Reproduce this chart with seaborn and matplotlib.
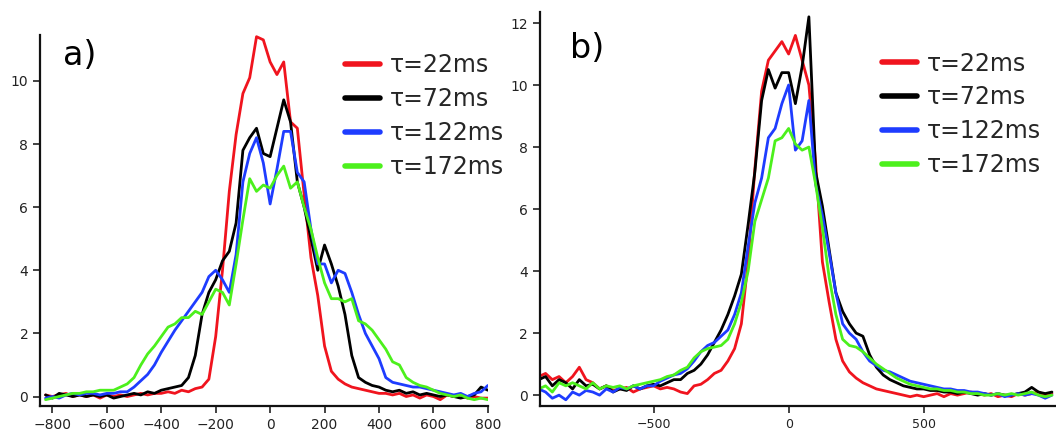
import numpy as np
import pandas as pd
import matplotlib
matplotlib.use("Agg")
import matplotlib.pyplot as plt
import seaborn as sns

# labels and colours of the four delays
taus = ["τ=22ms", "τ=72ms", "τ=122ms", "τ=172ms"]
colors = ["#f0141e", "#000000", "#1e3cff", "#4cf01c"]

# panel a) x grid, -825 .. 800 in steps of 25
xa = np.arange(-825, 801, 25)
a_22 = [0.05, 0.0, 0.05, 0.1, 0.0, 0.05, 0.0, 0.05, -0.05, 0.05, 0.0, 0.05, 0.0, 0.05, 0.1, 0.05,
        0.1, 0.1, 0.15, 0.1, 0.2, 0.15, 0.25, 0.3, 0.55, 1.9, 4.0, 6.5, 8.3, 9.6, 10.1, 11.4,
        11.3, 10.6, 10.2, 10.6, 8.7, 8.5, 6.4, 4.4, 3.2, 1.6, 0.8, 0.55, 0.4, 0.3, 0.25, 0.2,
        0.15, 0.1, 0.1, 0.05, 0.1, 0.0, 0.05, -0.05, 0.05, 0.0, -0.1, 0.05, 0.0, 0.05, -0.05, 0.0,
        -0.05, -0.05]
a_72 = [0.05, -0.05, 0.1, 0.05, 0.0, 0.05, 0.0, 0.05, 0.0, 0.05, -0.05, 0.0, 0.05, 0.1, 0.05, 0.15,
        0.1, 0.2, 0.25, 0.3, 0.35, 0.6, 1.3, 2.6, 3.3, 3.7, 4.3, 4.6, 5.5, 7.8, 8.2, 8.5,
        7.7, 7.6, 8.5, 9.4, 8.7, 6.8, 6.0, 5.0, 4.0, 4.8, 4.2, 3.5, 2.6, 1.3, 0.6, 0.45,
        0.35, 0.3, 0.2, 0.15, 0.2, 0.1, 0.15, 0.05, 0.1, 0.05, 0.0, 0.05, 0.0, -0.05, 0.0, 0.05,
        0.3, 0.2]
a_122 = [-0.05, 0.0, -0.05, 0.05, 0.1, 0.05, 0.1, 0.1, 0.05, 0.1, 0.1, 0.15, 0.15, 0.3, 0.5, 0.7,
         1.0, 1.4, 1.75, 2.1, 2.4, 2.7, 3.0, 3.3, 3.8, 4.0, 3.7, 3.3, 4.5, 6.8, 7.7, 8.2,
         7.4, 6.1, 7.2, 8.4, 8.4, 7.1, 6.8, 5.3, 4.2, 4.2, 3.6, 4.0, 3.9, 3.3, 2.6, 2.0,
         1.6, 1.2, 0.6, 0.45, 0.4, 0.35, 0.3, 0.3, 0.25, 0.2, 0.15, 0.1, 0.05, 0.1, 0.0, 0.1,
         0.15, 0.35]
a_172 = [-0.1, -0.05, 0.0, 0.05, 0.1, 0.1, 0.15, 0.15, 0.2, 0.2, 0.2, 0.3, 0.4, 0.6, 1.0, 1.35,
         1.6, 1.9, 2.2, 2.3, 2.5, 2.5, 2.7, 2.6, 3.0, 3.4, 3.3, 2.9, 4.2, 5.6, 6.9, 6.5,
         6.7, 6.6, 7.0, 7.3, 6.6, 6.8, 6.0, 5.3, 4.4, 3.6, 3.1, 3.1, 3.0, 3.1, 2.4, 2.3,
         2.1, 1.8, 1.5, 1.1, 1.0, 0.6, 0.45, 0.35, 0.3, 0.2, 0.1, 0.05, 0.0, 0.05, -0.05, -0.1,
         -0.05, -0.1]

# panel b) x grid, -925 .. 975 in steps of 25
xb = np.arange(-925, 976, 25)
b_22 = [0.6, 0.7, 0.5, 0.6, 0.4, 0.6, 0.9, 0.5, 0.4, 0.2, 0.3, 0.15, 0.2, 0.25, 0.1, 0.2,
        0.25, 0.3, 0.2, 0.25, 0.2, 0.1, 0.05, 0.3, 0.35, 0.5, 0.7, 0.8, 1.1, 1.5, 2.3, 4.3,
        7.3, 9.8, 10.8, 11.1, 11.4, 11.0, 11.6, 10.8, 10.0, 7.5, 4.3, 3.0, 1.8, 1.1, 0.75, 0.55,
        0.4, 0.3, 0.2, 0.15, 0.1, 0.05, 0.0, -0.05, 0.0, -0.05, 0.0, 0.05, -0.05, 0.05, 0.0, 0.05,
        0.1, 0.05, 0.0, 0.05, -0.05, 0.0, -0.05, 0.05, 0.0, 0.05, 0.1, 0.0, 0.05]
b_72 = [0.5, 0.6, 0.3, 0.5, 0.4, 0.2, 0.5, 0.3, 0.35, 0.2, 0.3, 0.1, 0.2, 0.15, 0.3, 0.2,
        0.3, 0.35, 0.3, 0.4, 0.5, 0.5, 0.7, 0.8, 1.0, 1.3, 1.7, 2.1, 2.6, 3.2, 3.9, 5.5,
        7.2, 9.5, 10.5, 9.9, 10.4, 10.4, 9.4, 10.6, 12.2, 7.2, 6.1, 4.7, 3.3, 2.7, 2.3, 2.0,
        1.9, 1.3, 0.9, 0.65, 0.5, 0.4, 0.3, 0.25, 0.2, 0.2, 0.15, 0.15, 0.1, 0.1, 0.05, 0.1,
        0.05, 0.0, 0.05, 0.0, 0.05, 0.0, 0.0, 0.05, 0.1, 0.25, 0.1, 0.05, 0.1]
b_122 = [0.2, 0.1, -0.1, 0.0, -0.15, 0.1, 0.0, 0.15, 0.1, 0.0, 0.2, 0.1, 0.25, 0.2, 0.3, 0.2,
         0.3, 0.3, 0.45, 0.55, 0.65, 0.7, 0.85, 1.1, 1.4, 1.6, 1.7, 1.9, 2.1, 2.6, 3.3, 4.8,
         6.2, 7.0, 8.3, 8.6, 9.4, 10.0, 7.9, 8.2, 9.5, 6.8, 5.8, 4.6, 3.3, 2.3, 2.0, 1.8,
         1.4, 1.1, 0.95, 0.8, 0.75, 0.65, 0.55, 0.45, 0.4, 0.35, 0.3, 0.25, 0.2, 0.2, 0.15, 0.15,
         0.1, 0.1, 0.05, 0.0, 0.05, -0.05, 0.0, 0.05, 0.0, 0.05, 0.0, -0.1, 0.0]
b_172 = [0.2, 0.3, 0.1, 0.4, 0.3, 0.4, 0.3, 0.2, 0.4, 0.2, 0.3, 0.25, 0.3, 0.2, 0.3, 0.35,
         0.4, 0.45, 0.5, 0.6, 0.65, 0.8, 0.9, 1.2, 1.4, 1.5, 1.55, 1.6, 1.8, 2.3, 3.0, 4.0,
         5.6, 6.3, 7.0, 8.2, 8.3, 8.6, 8.1, 7.9, 8.0, 6.8, 5.4, 3.8, 2.6, 1.8, 1.6, 1.55,
         1.4, 1.2, 1.0, 0.85, 0.7, 0.55, 0.45, 0.35, 0.3, 0.25, 0.2, 0.2, 0.15, 0.15, 0.1, 0.1,
         0.05, 0.05, 0.0, 0.0, 0.05, 0.0, 0.05, 0.0, 0.05, 0.1, 0.0, -0.05, 0.0]


def long_table(x, series):
    frames = []
    for tau, vals in zip(taus, series):
        assert len(vals) == len(x), (tau, len(vals), len(x))
        frames.append(pd.DataFrame({"x": x, "v": vals, "tau": tau}))
    return pd.concat(frames, ignore_index=True)


df_a = long_table(xa, [a_22, a_72, a_122, a_172])
df_b = long_table(xb, [b_22, b_72, b_122, b_172])

sns.set_style("ticks")
plt.rcParams["font.family"] = ["DejaVu Sans"]

fig = plt.figure(figsize=(10.56, 4.44), dpi=100)
ax_a = fig.add_axes([0.038, 0.0856, 0.424, 0.836])
ax_b = fig.add_axes([0.511, 0.0856, 0.489, 0.887])

pal = dict(zip(taus, colors))
for ax, df in [(ax_a, df_a), (ax_b, df_b)]:
    sns.lineplot(data=df, x="x", y="v", hue="tau", palette=pal, estimator=None,
                 linewidth=2.0, ax=ax)
    sns.despine(ax=ax)
    ax.set_xlabel("")
    ax.set_ylabel("")
    ax.tick_params(direction="out", length=5, width=1.2, colors="#222222", labelsize=10)
    for s in ["left", "bottom"]:
        ax.spines[s].set_linewidth(1.6)
        ax.spines[s].set_color("#111111")
    handles, labels = ax.get_legend_handles_labels()
    for h in handles:
        h.set_linewidth(4)
    ax.legend(handles, labels, frameon=False, fontsize=17, handlelength=1.5,
              handletextpad=0.4, labelspacing=0.42, borderpad=0, borderaxespad=0,
              loc="upper left")

ax_a.set_xlim(-845, 800)
ax_a.set_ylim(-0.3, 11.46)
ax_a.set_xticks(np.arange(-800, 801, 200))
ax_a.set_yticks(np.arange(0, 11, 2))
ax_a.legend_.set_bbox_to_anchor((0.681, 0.95))
ax_a.text(0.05, 0.99, "a)", transform=ax_a.transAxes, fontsize=24, va="top", color="black")

ax_b.set_xlim(-922, 990)
ax_b.set_ylim(-0.35, 12.35)
ax_b.set_xticks([-500, 0, 500])
ax_b.set_yticks(np.arange(0, 13, 2))
ax_b.tick_params(axis="x", labelsize=9)
ax_b.legend_.set_bbox_to_anchor((0.663, 0.9))
ax_b.text(0.058, 0.95, "b)", transform=ax_b.transAxes, fontsize=24, va="top", color="black")

fig.savefig("out.png", dpi=100)
